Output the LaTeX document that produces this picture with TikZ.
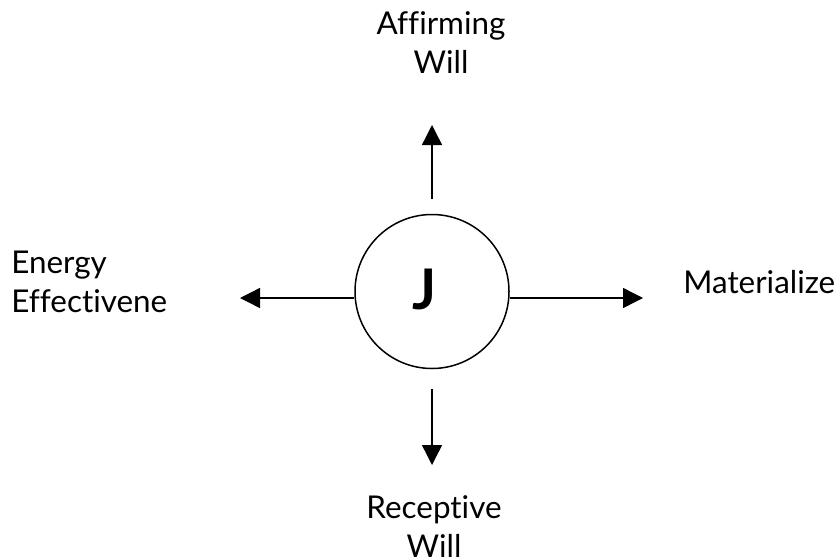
\documentclass[tikz,border=0pt]{standalone}
\usepackage{fontspec}
\setmainfont{Lato}[Ligatures={NoCommon}]
\usetikzlibrary{arrows.meta}
\tikzset{
  flow/.style={-{Triangle[length=10pt,width=10pt]}, line width=0.7pt},
  lbl/.style={font=\fontsize{15.7pt}{19.5pt}\selectfont, inner sep=0pt, anchor=base},
}
\begin{document}
\begin{tikzpicture}[x=0.5pt,y=-0.5pt]
  \useasboundingbox (0,0) rectangle (839,557);
  \node[circle, draw, line width=0.75pt, minimum size=77pt, inner sep=0pt] (jc) at (432,291.5) {};
  \node[font=\fontsize{28pt}{30pt}\selectfont\bfseries, inner sep=0pt] (jl) at (425,289) {J};
  % arrow tips
  \coordinate (ut) at (432,125);
  \coordinate (dt) at (432,465);
  \coordinate (lt) at (240,298);
  \coordinate (rt) at (643,298);
  \draw[flow, shorten <=7.5pt] (jc.north) -- (ut);
  \draw[flow, shorten <=10pt] (jc.south) -- (dt);
  \draw[flow] (jc.west |- lt) -- (lt);
  \draw[flow] (jc.east |- rt) -- (rt);
  % labels
  \node[lbl, align=center] (aff) at (441,73) {Affirming\\Will};
  \node[lbl, align=left, anchor=base west] (eng) at (11,312) {Energy\\Effectivene};
  \node[lbl, anchor=base west] (mat) at (683,293) {Materialize};
  \node[lbl, align=center] (rec) at (434,557) {Receptive\\Will};
\end{tikzpicture}
\end{document}
